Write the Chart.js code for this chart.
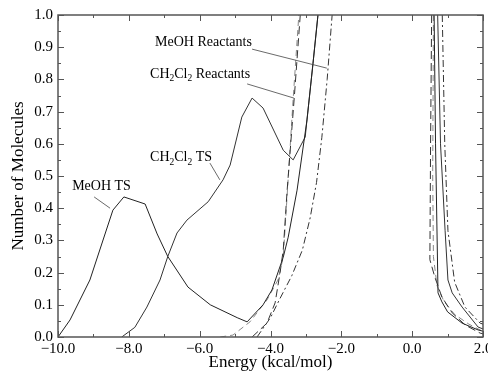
<!DOCTYPE html>
<html>
<head>
<meta charset="utf-8">
<script src="https://cdn.jsdelivr.net/npm/chart.js@4/dist/chart.umd.min.js"></script>
<style>
html, body { margin: 0; padding: 0; background: #fff; }
</style>
</head>
<body>
<canvas id="chart" width="488" height="373"></canvas>
<script>
// values: energy (kcal/mol) and number of molecules
const energyMeohTs = [-10, -9.66, -9.1, -8.45, -8.14, -7.54, -7.2, -6.9, -6.33, -5.7, -4.94, -4.66, -4.21, -3.96, -3.64, -3.5, -3.25, -2.97, -2.8, -2.66]
const countMeohTs = [0, 0.053, 0.177, 0.394, 0.435, 0.413, 0.32, 0.25, 0.155, 0.1, 0.06, 0.047, 0.1, 0.146, 0.248, 0.31, 0.456, 0.674, 0.85, 1.0]
const energyMeohTsHigh = [0.62, 0.66, 0.73, 0.84, 1.0, 1.41, 1.86, 2.0]
const countMeohTsHigh = [1.0, 0.6, 0.137, 0.109, 0.078, 0.043, 0.022, 0.018]

const energyCh2cl2Ts = [-8.2, -7.83, -7.49, -7.12, -6.9, -6.64, -6.36, -5.76, -5.34, -5.14, -4.81, -4.52, -4.21, -3.64, -3.36, -3.02, -2.97, -2.8, -2.66]
const countCh2cl2Ts = [0, 0.03, 0.093, 0.177, 0.25, 0.323, 0.363, 0.42, 0.488, 0.534, 0.683, 0.742, 0.711, 0.58, 0.55, 0.621, 0.674, 0.85, 1.0]
const energyCh2cl2TsHigh = [0.72, 0.8, 0.93, 1.01, 1.13, 1.41, 1.86, 2.0]
const countCh2cl2TsHigh = [1.0, 0.6, 0.33, 0.177, 0.137, 0.093, 0.031, 0.025]

const energyMeohReact = [-4.38, -4.0, -3.73, -3.4, -3.1, -2.88, -2.7, -2.55, -2.4, -2.26]
const countMeohReact = [0, 0.06, 0.12, 0.19, 0.27, 0.37, 0.48, 0.62, 0.8, 1.0]
const energyMeohReactHigh = [0.85, 0.92, 1.01, 1.2, 1.49, 1.92, 2.0]
const countMeohReactHigh = [1.0, 0.6, 0.33, 0.17, 0.093, 0.043, 0.04]

const energyCh2cl2React = [-4.52, -4.1, -3.87, -3.73, -3.64, -3.53, -3.33, -3.16]
const countCh2cl2React = [0, 0.043, 0.106, 0.2, 0.27, 0.456, 0.742, 1.0]
const energyCh2cl2ReactHigh = [0.55, 0.52, 0.5, 0.64, 0.84, 1.13, 1.5, 1.92, 2.0]
const countCh2cl2ReactHigh = [1.0, 0.6, 0.24, 0.186, 0.124, 0.075, 0.037, 0.012, 0.01]

const energyExtra = [-5.42, -5.06, -4.58, -4.1, -3.79, -3.64, -3.53, -3.36, -3.2]
const countExtra = [0, 0.006, 0.047, 0.115, 0.177, 0.248, 0.44, 0.74, 1.0]
const energyExtraHigh = [0.6, 0.58, 0.6, 0.7, 0.9, 1.2, 1.6, 1.95, 2.0]
const countExtraHigh = [1.0, 0.5, 0.25, 0.16, 0.11, 0.07, 0.04, 0.02, 0.018]

const xTicks = [-10, -8, -6, -4, -2, 0, 2]

// curve labels: text parts (second item = subscript), text position and pointer line, in data units
const labelParts = [
    [['MeOH Reactants']],
    [['CH'], ['2', 1], ['Cl'], ['2', 1], [' Reactants']],
    [['CH'], ['2', 1], ['Cl'], ['2', 1], [' TS']],
    [['MeOH TS']]
]
const labelX = [-7.26, -7.40, -7.40, -9.6]
const labelY = [0.916, 0.817, 0.559, 0.469]
const pointerFrom = [[-4.52, 0.894], [-4.66, 0.786], [-5.71, 0.540], [-8.98, 0.435]]
const pointerTo = [[-2.41, 0.835], [-3.34, 0.742], [-5.43, 0.488], [-8.53, 0.40]]

const serif = '"Liberation Serif", "DejaVu Serif", serif'

function toPoints(xs, ys, xs2, ys2) {
    const pts = xs.map((x, i) => ({x: x, y: ys[i]}))
    pts.push({x: (xs[xs.length - 1] + xs2[0]) / 2, y: null})
    return pts.concat(xs2.map((x, i) => ({x: x, y: ys2[i]})))
}

function fmt(v) {
    const s = Math.abs(v).toFixed(1)
    return v < -0.001 ? '\u2212' + s : s
}

const frame = {
    id: 'frame',
    afterDatasetsDraw(chart) {
        const {ctx, chartArea: a, scales: {x, y}} = chart
        ctx.save()
        ctx.strokeStyle = '#555'
        ctx.lineWidth = 1
        for (let v = -10; v <= 2.001; v += 1) {
            const px = Math.round(x.getPixelForValue(v)) + 0.5
            const len = Math.abs(v % 2) < 0.01 ? 6 : 3
            ctx.beginPath()
            ctx.moveTo(px, a.bottom); ctx.lineTo(px, a.bottom - len)
            ctx.moveTo(px, a.top); ctx.lineTo(px, a.top + len)
            ctx.stroke()
        }
        for (let i = 0; i <= 20; i++) {
            const py = Math.round(y.getPixelForValue(i * 0.05)) + 0.5
            const len = i % 2 === 0 ? 6 : 3
            ctx.beginPath()
            ctx.moveTo(a.left, py); ctx.lineTo(a.left + len, py)
            ctx.moveTo(a.right, py); ctx.lineTo(a.right - len, py)
            ctx.stroke()
        }
        ctx.lineWidth = 1.5
        ctx.strokeRect(a.left, a.top, a.right - a.left, a.bottom - a.top)

        // curve labels
        ctx.fillStyle = '#000'
        ctx.textBaseline = 'middle'
        ctx.lineWidth = 0.8
        ctx.strokeStyle = '#444'
        labelParts.forEach((parts, k) => {
            let px = x.getPixelForValue(labelX[k])
            const py = y.getPixelForValue(labelY[k])
            parts.forEach(p => {
                ctx.font = (p[1] ? '9.5px ' : '14px ') + serif
                ctx.fillText(p[0], px, p[1] ? py + 5 : py)
                px += ctx.measureText(p[0]).width
            })
            ctx.beginPath()
            ctx.moveTo(x.getPixelForValue(pointerFrom[k][0]), y.getPixelForValue(pointerFrom[k][1]))
            ctx.lineTo(x.getPixelForValue(pointerTo[k][0]), y.getPixelForValue(pointerTo[k][1]))
            ctx.stroke()
        })
        ctx.restore()
    }
}

new Chart('chart', {
    type: 'line',
    data: {
        datasets: [
            {label: 'MeOH TS', data: toPoints(energyMeohTs, countMeohTs, energyMeohTsHigh, countMeohTsHigh), borderColor: '#222'},
            {label: 'CH2Cl2 TS', data: toPoints(energyCh2cl2Ts, countCh2cl2Ts, energyCh2cl2TsHigh, countCh2cl2TsHigh), borderColor: '#333'},
            {label: 'MeOH Reactants', data: toPoints(energyMeohReact, countMeohReact, energyMeohReactHigh, countMeohReactHigh), borderColor: '#333', borderDash: [7, 3, 2, 3]},
            {label: 'CH2Cl2 Reactants', data: toPoints(energyCh2cl2React, countCh2cl2React, energyCh2cl2ReactHigh, countCh2cl2ReactHigh), borderColor: '#333', borderDash: [8, 4]},
            {label: 'CH2Cl2 Reactants 2', data: toPoints(energyExtra, countExtra, energyExtraHigh, countExtraHigh), borderColor: '#888', borderDash: [6, 4]}
        ]
    },
    options: {
        responsive: false,
        animation: false,
        spanGaps: false,
        layout: {padding: {top: 15, right: 5, left: 0, bottom: 0}},
        plugins: {legend: {display: false}, tooltip: {enabled: false}},
        elements: {point: {radius: 0}, line: {tension: 0, borderWidth: 1}},
        scales: {
            x: {
                type: 'linear', min: -10, max: 2,
                afterBuildTicks: s => { s.ticks = xTicks.map(v => ({value: v})) },
                ticks: {callback: v => fmt(v), color: '#000', font: {family: serif, size: 15}, maxRotation: 0, padding: 3},
                grid: {display: false, drawTicks: false}, border: {display: false},
                title: {display: true, text: 'Energy (kcal/mol)', color: '#000', font: {family: serif, size: 17}, padding: {top: 0, bottom: 0}},
                afterFit(s) { s.height = 36; s.paddingLeft = 0; s.paddingRight = 0 }
            },
            y: {
                min: 0, max: 1,
                ticks: {stepSize: 0.1, callback: v => fmt(v), color: '#000', font: {family: serif, size: 15}, padding: 5},
                grid: {display: false, drawTicks: false}, border: {display: false},
                title: {display: true, text: 'Number of Molecules', color: '#000', font: {family: serif, size: 17}, padding: {top: 8, bottom: 0}},
                afterFit(s) { s.width = 58; s.paddingTop = 0; s.paddingBottom = 0 }
            }
        }
    },
    plugins: [frame]
})
</script>
</body>
</html>
